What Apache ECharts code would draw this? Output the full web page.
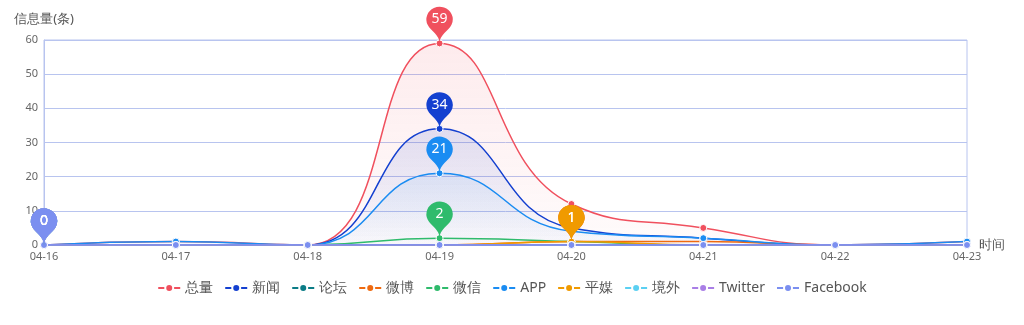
<!DOCTYPE html>
<html><head><meta charset="utf-8">
<script src="https://cdn.jsdelivr.net/npm/echarts@6/dist/echarts.min.js"></script>
<style>html,body{margin:0;padding:0;background:#fff}#c{width:1024px;height:325px}</style>
</head><body><div id="c"></div>
<script>
const categories = ['04-16','04-17','04-18','04-19','04-20','04-21','04-22','04-23'];
const seriesNames = ['总量','新闻','论坛','微博','微信','APP','平媒','境外','Twitter','Facebook'];
const colors = ['#f0505e','#1440d0','#0b7c86','#ef6a10','#2fbb6c','#1a8cf2','#f09a00','#5bd0f2','#a97ee6','#7b8ff0'];
const total    = [0,1,0,59,12,5,0,1];
const news     = [0,0,0,34,5,2,0,0];
const forum    = [0,0,0,0,0,0,0,0];
const weibo    = [0,0,0,0,1,1,0,0];
const weixin   = [0,0,0,2,1,0,0,0];
const app      = [0,1,0,21,4,2,0,1];
const print    = [0,0,0,0,1,0,0,0];
const overseas = [0,0,0,0,0,0,0,0];
const twitter  = [0,0,0,0,0,0,0,0];
const facebook = [0,0,0,0,0,0,0,0];
const allData = [total,news,forum,weibo,weixin,app,print,overseas,twitter,facebook];
const areaAlpha = {0:[0.16,0.03],1:[0.18,0.02],5:[0.12,0.02]};
function hexA(h,a){const r=parseInt(h.slice(1,3),16),g=parseInt(h.slice(3,5),16),b=parseInt(h.slice(5,7),16);return `rgba(${r},${g},${b},${a})`;}
const series = seriesNames.map((n,i)=>{
  const s = {
    name:n, type:'line', smooth:true, data:allData[i],
    symbol:'circle', symbolSize:7,
    itemStyle:{color:colors[i], borderColor:'#fff', borderWidth:1},
    lineStyle:{width:1.5, color:colors[i]},
    markPoint:{
      symbolSize:[44,42],
      data:[{type:'max'}],
      label:{color:'#fff', fontSize:14, fontFamily:'Noto Sans', offset:[0,-2]},
      itemStyle:{color:colors[i]}
    }
  };
  if(areaAlpha[i]){
    s.areaStyle = {color:{type:'linear',x:0,y:0,x2:0,y2:1,colorStops:[{offset:0,color:hexA(colors[i],areaAlpha[i][0])},{offset:1,color:hexA(colors[i],areaAlpha[i][1])}]}};
  }
  return s;
});
const chart = echarts.init(document.getElementById('c'));
chart.setOption({
  animation:false,
  color:colors,
  textStyle:{fontFamily:'Noto Sans'},
  grid:{left:44,right:57,top:40,bottom:80,show:true,borderColor:'#b8c4ef',borderWidth:1},
  legend:{
    data:seriesNames, bottom:25, left:'center', itemWidth:22, itemHeight:10, itemGap:11,
    textStyle:{color:'#555', fontSize:14, fontFamily:'Noto Sans'}
  },
  xAxis:{
    type:'category', data:categories, boundaryGap:false,
    name:'时间', nameGap:12, nameMoveOverlap:false, nameTextStyle:{color:'#555', fontSize:13},
    axisLine:{lineStyle:{color:'#b8c4ef'}},
    axisTick:{show:false},
    axisLabel:{color:'#666', fontSize:11, margin:6}
  },
  yAxis:{
    type:'value', min:0, max:60, interval:10,
    name:'信息量(条)', nameGap:14, nameTextStyle:{color:'#555', fontSize:13, align:'right', padding:[0,-30,0,0]},
    axisLine:{show:true, lineStyle:{color:'#b8c4ef'}},
    axisTick:{show:false},
    axisLabel:{color:'#666', fontSize:11, margin:6},
    splitLine:{lineStyle:{color:'#b8c4ef'}}
  },
  series:series
});
</script></body></html>
